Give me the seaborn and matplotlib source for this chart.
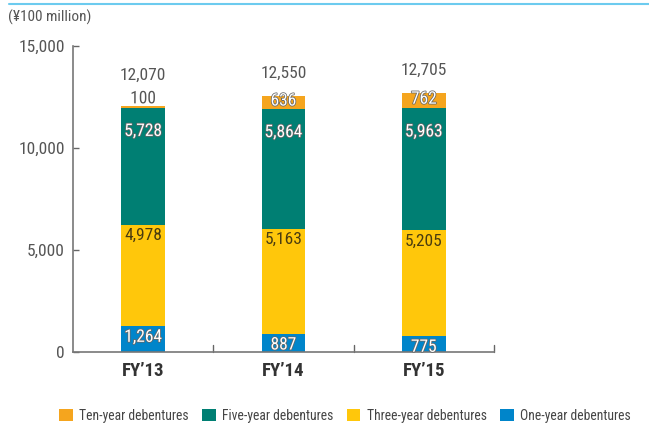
import matplotlib
matplotlib.use("Agg")
import matplotlib.pyplot as plt
import matplotlib.patheffects as pe
from matplotlib import font_manager as fm
from matplotlib.patches import Patch
from matplotlib.lines import Line2D
import seaborn as sns
import pandas as pd
import numpy as np

# Data (¥100 million)
years = ["FY\u201913", "FY\u201914", "FY\u201915"]
one_year = [1264, 887, 775]
three_year = [4978, 5163, 5205]
five_year = [5728, 5864, 5963]
ten_year = [100, 636, 762]
totals = [12070, 12550, 12705]

series_names = ["Ten-year debentures", "Five-year debentures",
                "Three-year debentures", "One-year debentures"]
colors = {"Ten-year debentures": "#F5A51E",
          "Five-year debentures": "#007F73",
          "Three-year debentures": "#FFC70B",
          "One-year debentures": "#0085CA"}

sns.set_style("white")

# pick a narrow face if one is installed (the original uses a condensed font)
fam, stretch = "DejaVu Sans", "normal"
names = {f.name for f in fm.fontManager.ttflist}
for cand in ["Liberation Sans Narrow", "Roboto Condensed", "Open Sans Condensed",
             "Noto Sans Condensed", "DejaVu Sans Condensed", "Arial Narrow"]:
    if cand in names:
        fam = cand
        break
else:
    for pref in ["DejaVu Sans", "Noto Sans", "Open Sans", "Roboto"]:
        cond = [f for f in fm.fontManager.ttflist
                if f.name == pref and str(f.stretch) in ("condensed", "semi-condensed", "500", "600")]
        if cond:
            fam, stretch = pref, "condensed"
            break
plt.rcParams["font.family"] = [fam, "DejaVu Sans"]
plt.rcParams["font.stretch"] = stretch
narrow = fam != "DejaVu Sans" or stretch != "normal"
fs = 12.5 if narrow else 11

fig = plt.figure(figsize=(6.49, 4.28), dpi=100)
ax = fig.add_axes([73 / 649, 1 - 352 / 428, 421 / 649, 306 / 428])

# stack from the bottom up
stack = [("One-year debentures", one_year), ("Three-year debentures", three_year),
         ("Five-year debentures", five_year), ("Ten-year debentures", ten_year)]
bottoms = np.zeros(len(years))
tops = {}
for name, vals in stack:
    bottoms = bottoms + np.array(vals)
    tops[name] = bottoms.copy()

# draw cumulative bars, tallest first so each sits on top of the next
for name, vals in reversed(stack):
    df = pd.DataFrame({"year": years, "cum": tops[name]})
    sns.barplot(data=df, x="year", y="cum", color=colors[name], width=0.31,
                saturation=1, ax=ax, linewidth=0)

outline = [pe.withStroke(linewidth=1.1, foreground="#666666")]
lab_kw = dict(ha="center", va="center", textcoords="offset points", fontsize=fs)
for i in range(len(years)):
    ax.annotate(f"{one_year[i]:,}", (i, tops["One-year debentures"][i]), xytext=(0, -8),
                color="white", path_effects=outline, **lab_kw)
    ax.annotate(f"{three_year[i]:,}", (i, tops["Three-year debentures"][i]), xytext=(0, -8),
                color="#4a3c10", **lab_kw)
    ax.annotate(f"{five_year[i]:,}", (i, tops["Five-year debentures"][i]), xytext=(0, -17),
                color="white", path_effects=outline, **lab_kw)
    top = tops["Ten-year debentures"][i]
    if ten_year[i] < 300:
        ax.annotate(f"{ten_year[i]:,}", (i, top), xytext=(0, 5),
                    color="#555555", path_effects=[pe.withStroke(linewidth=1.5, foreground="white")],
                    **lab_kw)
        tot_off = 22
    else:
        ax.annotate(f"{ten_year[i]:,}", (i, top - ten_year[i] / 2), xytext=(0, 1),
                    color="white", path_effects=outline, **lab_kw)
        tot_off = 16
    ax.annotate(f"{totals[i]:,}", (i, top), xytext=(0, tot_off),
                color="#555555", **lab_kw)

ax.set_xlim(-0.5, 2.5)
ax.set_ylim(0, 15000)
ax.set_yticks([0, 5000, 10000, 15000])
ax.set_yticklabels([f"{v:,}" for v in [0, 5000, 10000, 15000]], fontsize=fs, color="#555555")
ax.set_xticks(range(len(years)))
ax.set_xticklabels(years, fontsize=fs + 1, fontweight="bold", color="#333333")
ax.set_xlabel("")
ax.set_ylabel("")
ax.tick_params(axis="y", direction="in", length=4, width=1, color="#666666", pad=6, left=True)
ax.tick_params(axis="x", length=0, pad=7)
for x in [0.5, 1.5, 2.5]:
    ax.plot([x, x], [0, 330], color="#666666", lw=1, clip_on=False)

for s in ["top", "right"]:
    ax.spines[s].set_visible(False)
for s in ["left", "bottom"]:
    ax.spines[s].set_color("#777777")
    ax.spines[s].set_linewidth(1.2)

# unit label and top rule
fig.text(8 / 649, 1 - 17 / 428, "(\u00a5100 million)", fontsize=fs - 1.5, color="#555555",
         ha="left", va="center")
fig.add_artist(Line2D([9 / 649, 1], [1 - 4 / 428, 1 - 4 / 428], color="#6CCBEF", lw=1.5))

handles = [Patch(facecolor=colors[n], edgecolor="none") for n in series_names]
leg_fs = 9.8 if narrow else 8.5
fig.legend(handles, series_names, ncol=4, loc="center left",
           bbox_to_anchor=(59 / 649, 1 - 416 / 428), frameon=False, fontsize=leg_fs,
           handlelength=1.0, handleheight=1.0, handletextpad=0.5,
           columnspacing=0.95 if narrow else 0.6, labelcolor="#444444",
           borderaxespad=0, borderpad=0)

fig.savefig("out.png", dpi=100)
